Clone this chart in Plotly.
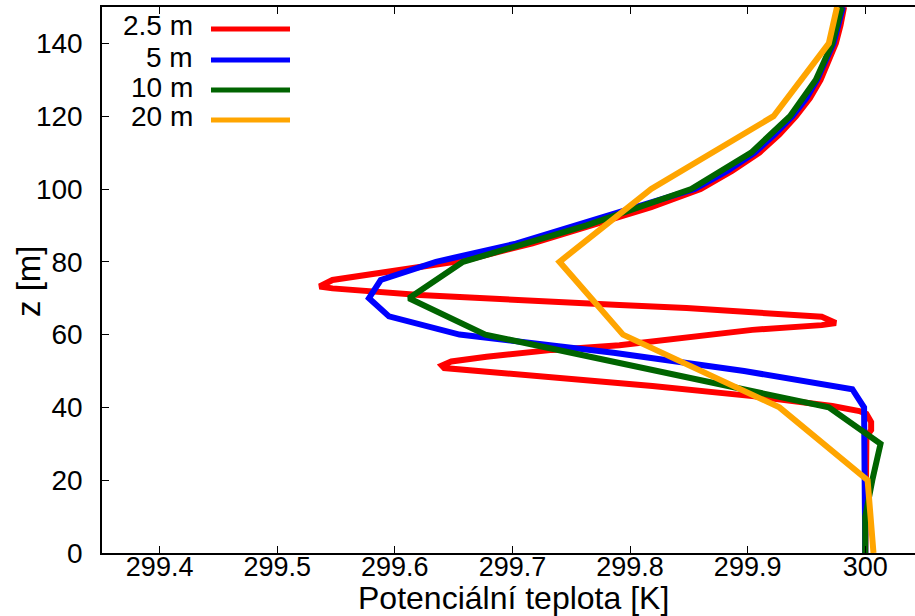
import plotly.graph_objects as go

# ---- data ----
red_z = [0, 10, 20, 30, 32, 33.8, 36.0, 38.2, 39.0, 40.4, 43.1, 45.9, 48.1, 49.5, 50.8, 51.5, 52.6, 53.9,
         55.8, 57.1, 59.4, 61.3, 62.6, 63.2, 64.9, 66.3, 67.3, 68.1, 69.0, 70.1, 70.9, 72.7, 73.2, 75.0,
         77.7, 80.5, 85.1, 90.6, 92.9, 95, 100, 105, 110, 115, 120, 125, 130, 135, 140, 145, 150]
red_theta = [300.0, 300.0, 300.0, 300.0, 300.001, 300.005, 300.005, 300.001, 299.995, 299.972, 299.904,
             299.819, 299.734, 299.678, 299.642, 299.640, 299.648, 299.678, 299.734, 299.791, 299.848,
             299.904, 299.963, 299.975, 299.963, 299.904, 299.848, 299.791, 299.734, 299.678, 299.621,
             299.547, 299.536, 299.547, 299.604, 299.661, 299.717, 299.774, 299.799, 299.818, 299.860,
             299.887, 299.910, 299.927, 299.941, 299.953, 299.962, 299.969, 299.975, 299.979, 299.982]

blue_z = [0, 5, 10, 15, 20, 25, 30, 35, 40, 45, 50, 55, 60, 65, 70, 75, 80, 85, 90, 95, 100,
          105, 110, 115, 120, 125, 130, 135, 140, 145, 150]
blue_theta = [300.0, 300.0, 300.0, 300.0, 300.0, 300.0, 300.0, 300.0, 299.999, 299.989, 299.897,
              299.786, 299.655, 299.595, 299.578, 299.588, 299.635, 299.703, 299.755, 299.803, 299.855,
              299.883, 299.906, 299.923, 299.938, 299.950, 299.959, 299.966, 299.973, 299.977, 299.981]

green_z = [0, 10, 20, 30, 40, 50, 60, 70, 80, 90, 100, 110, 120, 130, 140, 150]
green_theta = [300.0, 300.0, 300.006, 300.013, 299.969, 299.823, 299.677, 299.612, 299.658, 299.763,
               299.852, 299.903, 299.936, 299.958, 299.972, 299.980]

orange_z = [0, 20, 40, 60, 80, 100, 120, 140, 150]
orange_theta = [300.007, 300.002, 299.927, 299.794, 299.740, 299.818, 299.922, 299.969, 299.976]

series_names = ["2.5 m", "5 m", "10 m", "20 m"]
series_colors = ["#ff0000", "#0000ff", "#006400", "#ffa500"]

x_ticks = [299.4, 299.5, 299.6, 299.7, 299.8, 299.9, 300.0]
x_ticklabels = ["299.4", "299.5", "299.6", "299.7", "299.8", "299.9", "300"]
y_ticks = [0, 20, 40, 60, 80, 100, 120, 140]
x_title = "Potenciální teplota [K]"
y_title = "z [m]"

FONT = "Liberation Sans, Arial, sans-serif"

fig = go.Figure()
for name, col, xs, zs in zip(series_names, series_colors,
                             [red_theta, blue_theta, green_theta, orange_theta],
                             [red_z, blue_z, green_z, orange_z]):
    fig.add_trace(go.Scatter(x=xs, y=zs, mode="lines", name=name,
                             line=dict(color=col, width=6), showlegend=False))

W, H = 915, 616
L, R, T, B = 102, 0, 7, 63
pw, ph = W - L - R, H - T - B

def px2x(px):
    return (px - L) / pw

def py2y(py):
    return (H - B - py) / ph

# gnuplot-style key: text right-aligned, sample line to the right
key_rows = [29, 60, 90, 120]
for name, col, yc in zip(series_names, series_colors, key_rows):
    fig.add_annotation(x=px2x(195), y=py2y(yc - 3), xref="paper", yref="paper",
                       text=name, showarrow=False, xanchor="right", yanchor="middle",
                       font=dict(family=FONT, size=28, color="#000000"))
    fig.add_shape(type="line", xref="paper", yref="paper",
                  x0=px2x(211), x1=px2x(290), y0=py2y(yc), y1=py2y(yc),
                  line=dict(color=col, width=5))

# axis titles
fig.add_annotation(x=px2x(513), y=py2y(598), xref="paper", yref="paper", text=x_title,
                   showarrow=False, xanchor="center", yanchor="middle", borderpad=0,
                   font=dict(family=FONT, size=32, color="#000000"))
fig.add_annotation(x=px2x(28), y=py2y(281), xref="paper", yref="paper", text=y_title,
                   showarrow=False, xanchor="center", yanchor="middle", textangle=-90,
                   font=dict(family=FONT, size=33, color="#000000"))

fig.update_layout(
    width=W, height=H,
    margin=dict(l=L, r=R, t=T, b=B, autoexpand=False),
    paper_bgcolor="white", plot_bgcolor="white",
    font=dict(family=FONT, size=28, color="#000000"),
    xaxis=dict(range=[299.351, 300.0423], tickvals=x_ticks, ticktext=x_ticklabels,
               ticks="inside", ticklen=7, tickcolor="#000000", tickwidth=1,
               showline=True, linecolor="#000000", linewidth=1.5, mirror="ticks",
               showgrid=False, zeroline=False, automargin=False,
               tickfont=dict(family=FONT, size=27), ticklabelstandoff=-11),
    yaxis=dict(range=[0, 150], tickvals=y_ticks,
               ticks="inside", ticklen=7, tickcolor="#000000", tickwidth=1,
               showline=True, linecolor="#000000", linewidth=1.5, mirror=False,
               showgrid=False, zeroline=False, automargin=False,
               tickfont=dict(family=FONT, size=28), ticklabelstandoff=12),
)

fig.write_html("out.html", config={"displayModeBar": False},
               post_script="document.body.style.margin='0';document.body.style.overflow='hidden';")
